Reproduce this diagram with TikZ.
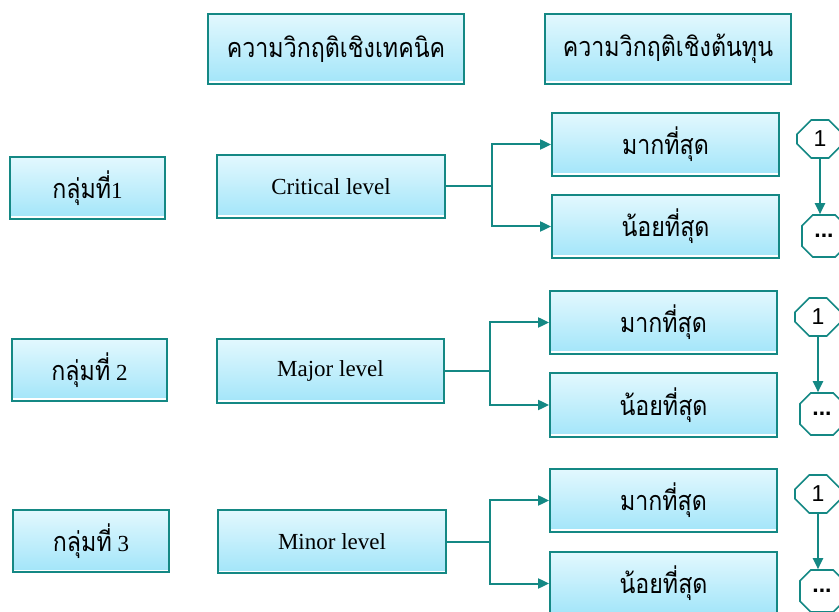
\documentclass[tikz,border=0pt]{standalone}
\usepackage{fontspec}
\setmainfont{Liberation Serif}
\newfontfamily\thai[Script=Thai,FakeStretch=0.86]{Loma}
\newfontfamily\arial{Liberation Sans}
\usetikzlibrary{arrows.meta,shapes.misc}
\definecolor{teal1}{RGB}{20,136,132}
\definecolor{topc}{RGB}{226,248,254}
\definecolor{botc}{RGB}{162,229,249}
\tikzset{
  box/.style={draw=teal1, line width=1.8pt, top color=topc, bottom color=botc,
    inner sep=0pt, minimum width=#1, minimum height=63pt, font=\fontsize{23}{26}\selectfont},
  thaibox/.style={box=#1, font=\fontsize{27}{30}\selectfont\thai},
  octa/.style={draw=teal1, line width=1.6pt, fill=white, chamfered rectangle,
    chamfered rectangle xsep=9pt, chamfered rectangle ysep=9pt, inner sep=0pt,
    minimum width=#1, font=\fontsize{23}{24}\selectfont\arial},
  conn/.style={draw=teal1, line width=2pt},
  arr/.style={conn, -{Triangle[length=11pt,width=10pt]}},
  gloss/.style={draw=white, line width=1.6pt},
}
\begin{document}
\begin{tikzpicture}[x=1pt,y=-1pt]
\useasboundingbox (0,0) rectangle (839,612);
% headers
\node[thaibox=256pt, minimum height=70pt] (h1) at (336,49) {ความวิกฤติเชิงเทคนิค};
\node[thaibox=246pt, minimum height=70pt] (h2) at (668,49) {ความวิกฤติเชิงต้นทุน};
% groups
\node[box=155pt, minimum height=62pt] (g1) at (87.5,188) {{\fontsize{27}{30}\selectfont\thai กลุ่มที่}1};
\node[box=155pt, minimum height=62pt] (g2) at (89.5,370) {{\fontsize{27}{30}\selectfont\thai กลุ่มที่} 2};
\node[box=156pt, minimum height=62pt] (g3) at (91,541) {{\fontsize{27}{30}\selectfont\thai กลุ่มที่} 3};
% levels
\node[box=228pt] (l1) at (331,186.5) {Critical level};
\node[box=227pt, minimum height=64pt] (l2) at (330.5,371) {Major level};
\node[box=228pt] (l3) at (332,541.5) {Minor level};
% right boxes
\node[thaibox=227pt] (r1a) at (665.5,144.5) {มากที่สุด};
\node[thaibox=227pt] (r1b) at (665.5,226.5) {น้อยที่สุด};
\node[thaibox=227pt] (r2a) at (663.5,322.5) {มากที่สุด};
\node[thaibox=227pt, minimum height=64pt] (r2b) at (663.5,405) {น้อยที่สุด};
\node[thaibox=227pt] (r3a) at (663.5,500.5) {มากที่สุด};
\node[thaibox=227pt] (r3b) at (663.5,583.5) {น้อยที่สุด};
% white gloss line along the bottom of each box
\foreach \n in {h1,h2,g1,g2,g3,l1,l2,l3,r1a,r1b,r2a,r2b,r3a,r3b}
  \draw[gloss] ([xshift=2pt,yshift=2.6pt]\n.south west) -- ([xshift=-2pt,yshift=2.6pt]\n.south east);
% octagons
\node[octa=46pt, minimum height=38pt] (o1a) at (820,139) {1};
\node[octa=44pt, minimum height=42pt] (o1b) at (824,236) {\bfseries...};
\node[octa=46pt, minimum height=38pt] (o2a) at (818,317) {1};
\node[octa=44pt, minimum height=42pt] (o2b) at (822,414) {\bfseries...};
\node[octa=46pt, minimum height=38pt] (o3a) at (818,494) {1};
\node[octa=44pt, minimum height=42pt] (o3b) at (822,591) {\bfseries...};
% junctions
\coordinate (j1) at (492,186.5);
\coordinate (j2) at (490,371);
\coordinate (j3) at (490,541.5);
\draw[conn] (l1.east) -- (j1);
\draw[arr] (j1) |- (r1a.west);
\draw[arr] (j1) |- (r1b.west);
\draw[conn] (l2.east) -- (j2);
\draw[arr] (j2) |- (r2a.west);
\draw[arr] (j2) |- (r2b.west);
\draw[conn] (l3.east) -- (j3);
\draw[arr] (j3) |- (r3a.west);
\draw[arr] (j3) |- (r3b.west);
% octagon arrows
\draw[arr] (o1a.south) -- (o1a.south |- o1b.north);
\draw[arr] (o2a.south) -- (o2a.south |- o2b.north);
\draw[arr] (o3a.south) -- (o3a.south |- o3b.north);
\end{tikzpicture}
\end{document}
